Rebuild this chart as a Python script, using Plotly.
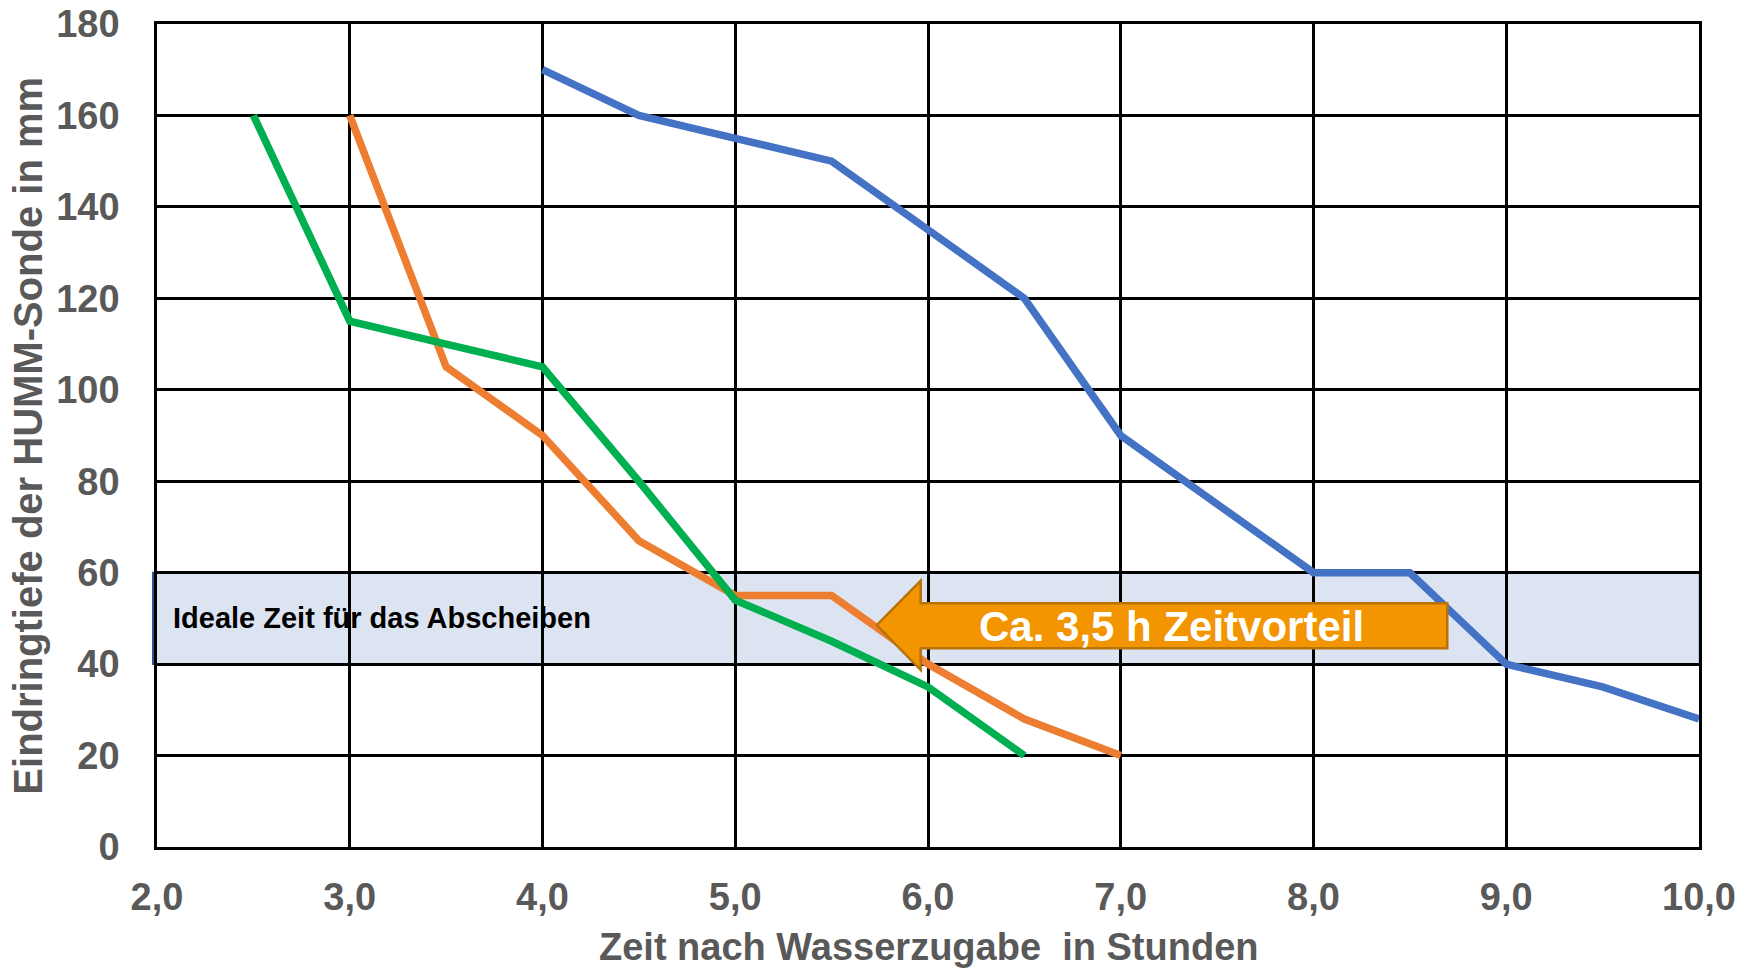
import plotly.graph_objects as go

# Data
x_green = [2.5, 3.0, 3.5, 4.0, 4.5, 5.0, 5.5, 6.0, 6.5]
y_green = [160, 115, 110, 105, 80, 54, 45, 35, 20]

x_orange = [3.0, 3.5, 4.0, 4.5, 5.0, 5.5, 6.0, 6.5, 7.0]
y_orange = [160, 105, 90, 67, 55, 55, 40, 28, 20]

x_blue = [4.0, 4.5, 5.0, 5.5, 6.0, 6.5, 7.0, 7.5, 8.0, 8.5, 9.0, 9.5, 10.0]
y_blue = [170, 160, 155, 150, 135, 120, 90, 75, 60, 60, 40, 35, 28]

x_ticks = [2, 3, 4, 5, 6, 7, 8, 9, 10]
y_ticks = [0, 20, 40, 60, 80, 100, 120, 140, 160, 180]

band_range = [40, 60]
band_label = "Ideale Zeit für das Abscheiben"
arrow_label = "Ca. 3,5 h Zeitvorteil"
x_title = "Zeit nach Wasserzugabe  in Stunden"
y_title = "Eindringtiefe der HUMM-Sonde in mm"

FONT = "Liberation Sans, Arial, sans-serif"
GREY = "#595959"

fig = go.Figure()
for xs, ys, col in [(x_blue, y_blue, "#4472C4"),
                    (x_orange, y_orange, "#ED7D31"),
                    (x_green, y_green, "#00B050")]:
    fig.add_trace(go.Scatter(x=xs, y=ys, mode="lines",
                             line=dict(color=col, width=7.5),
                             showlegend=False, hoverinfo="skip"))

# Ideal band
fig.add_shape(type="rect", xref="paper", yref="y",
              x0=-0.0026, x1=1.0005, y0=band_range[0], y1=band_range[1],
              fillcolor="#DDE4F1", line=dict(color="#2F5597", width=2),
              layer="below")
fig.add_annotation(xref="paper", yref="y", x=0.009, y=50.0,
                   text=band_label, showarrow=False, xanchor="left",
                   font=dict(family=FONT, size=29, color="black", weight=700))

# Arrow (left-pointing block arrow)
tip_x, head_x, end_x = 5.734, 5.962, 8.694
tip_y, head_top, head_bot, body_top, body_bot = 48.55, 58.24, 38.71, 53.3, 43.45
path = (f"M {tip_x},{tip_y} L {head_x},{head_top} L {head_x},{body_top} "
        f"L {end_x},{body_top} L {end_x},{body_bot} L {head_x},{body_bot} "
        f"L {head_x},{head_bot} Z")
fig.add_shape(type="path", path=path, xref="x", yref="y",
              fillcolor="#F29500", line=dict(color="#B8720A", width=2.5),
              layer="above")
fig.add_annotation(xref="x", yref="y", x=7.263, y=48.3, text=arrow_label,
                   showarrow=False,
                   font=dict(family=FONT, size=42, color="white", weight=700))

# Axis titles
fig.add_annotation(xref="paper", yref="paper", x=0.5, y=-0.1215,
                   xanchor="center", yanchor="middle", text=x_title,
                   showarrow=False,
                   font=dict(family=FONT, size=38, color=GREY, weight=700))
fig.add_annotation(xref="paper", yref="paper", x=-0.0842, y=0.5,
                   xanchor="center", yanchor="middle", text=y_title,
                   textangle=-90, showarrow=False,
                   font=dict(family=FONT, size=40, color=GREY, weight=700))

axis_common = dict(showgrid=True, gridcolor="black", gridwidth=2.5,
                   showline=True, linecolor="black", linewidth=2.5, mirror=True,
                   zeroline=False, ticks="", automargin=False,
                   ticklabeloverflow="allow",
                   tickfont=dict(family=FONT, size=38, color=GREY, weight=700))

fig.update_xaxes(range=[2, 10], tickvals=x_ticks, tickformat=".1f",
                 ticklabelstandoff=15, **axis_common)
fig.update_yaxes(range=[0, 180], tickvals=y_ticks,
                 ticklabelstandoff=27, **axis_common)

fig.update_layout(width=1742, height=969,
                  margin=dict(l=157, r=43, t=24, b=122),
                  paper_bgcolor="white", plot_bgcolor="white",
                  separators=",.", showlegend=False)

# remove the default 8px page margin so the figure fills the window exactly
fig.write_html("out.html",
               config={"displayModeBar": False},
               post_script="document.body.style.margin='0';"
                           "document.body.style.overflow='hidden';")
